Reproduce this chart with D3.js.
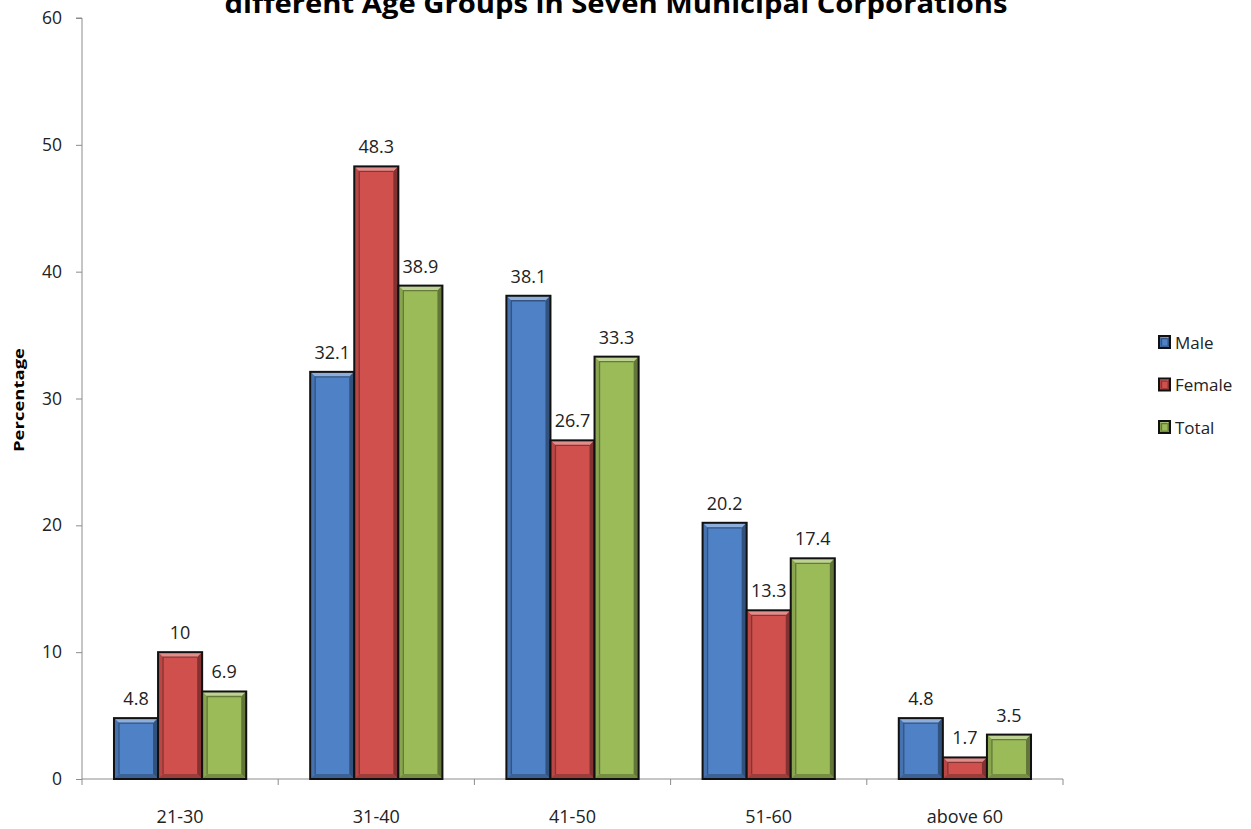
<!DOCTYPE html>
<html><head><meta charset="utf-8">
<script src="https://cdn.jsdelivr.net/npm/d3@7/dist/d3.min.js"></script>
<style>body{margin:0;background:#fff}svg{display:block}</style>
</head><body>
<svg id="chart" width="1251" height="829"></svg>
<script>
const categories = ["21-30", "31-40", "41-50", "51-60", "above 60"];
const seriesNames = ["Male", "Female", "Total"];
const male = [4.8, 32.1, 38.1, 20.2, 4.8];
const female = [10, 48.3, 26.7, 13.3, 1.7];
const total = [6.9, 38.9, 33.3, 17.4, 3.5];
const yTicks = [0, 10, 20, 30, 40, 50, 60];
const titleText = "different Age Groups in Seven Municipal Corporations";
const yLabel = "Percentage";

const colors = {Male: "#4F81C6", Female: "#D0504E", Total: "#9BBB59"};
const seriesData = {Male: male, Female: female, Total: total};

const svg = d3.select("#chart");
const font = "'Open Sans', 'Liberation Sans', sans-serif";
const m = {left: 82, right: 1063, top: 18, bottom: 779};

const band = d3.scaleBand().domain(categories).range([m.left, m.right]).padding(0);
const inner = d3.scaleBand().domain(seriesNames).range([0, band.bandwidth() * 0.674]).padding(0);
const y = d3.scaleLinear().domain([0, 60]).range([m.bottom, m.top]);

// title (second line, partly cut off at the top as in the reference)
svg.append("text").attr("x", 616).attr("y", 13).attr("text-anchor", "middle")
  .attr("font-family", "'Open Sans', sans-serif").attr("font-weight", "bold").attr("font-size", 27)
  .attr("textLength", 783).attr("lengthAdjust", "spacingAndGlyphs")
  .attr("fill", "#000").text(titleText);

// y axis
const yAxis = d3.axisLeft(y).tickValues(yTicks).tickSize(6).tickPadding(14);
const gy = svg.append("g").attr("transform", `translate(${m.left},0)`).call(yAxis);
gy.select(".domain").attr("stroke", "#8c8c8c").attr("d", `M-6,${m.top}H0V${m.bottom}`);
gy.selectAll(".tick line").attr("stroke", "#8c8c8c");
gy.selectAll(".tick text").attr("font-family", font).attr("font-size", 17.5).attr("fill", "#222");

// x axis
const gx = svg.append("g").attr("transform", `translate(0,${m.bottom})`);
gx.append("line").attr("x1", m.left).attr("x2", m.right).attr("y1", 0).attr("y2", 0).attr("stroke", "#8c8c8c");
const bounds = categories.map(c => band(c)).concat([m.right]);
gx.selectAll("line.tk").data(bounds).join("line").attr("class", "tk")
  .attr("x1", d => d).attr("x2", d => d).attr("y1", 0).attr("y2", 6).attr("stroke", "#8c8c8c");
gx.selectAll("text.cl").data(categories).join("text").attr("class", "cl")
  .attr("x", d => band(d) + band.bandwidth() / 2).attr("y", 44).attr("text-anchor", "middle")
  .attr("font-family", font).attr("font-size", 18).attr("fill", "#222").text(d => d);

// y label
svg.append("text").attr("transform", "translate(24,400) rotate(-90)").attr("text-anchor", "middle")
  .attr("font-family", "'Open Sans', sans-serif").attr("font-weight", "bold").attr("font-size", 15)
  .attr("textLength", 104).attr("lengthAdjust", "spacingAndGlyphs")
  .attr("fill", "#000").text(yLabel);

// bevelled bar
function bevelBar(g, x0, y0, w, h, col, bev) {
  const c = d3.color(col);
  const b = Math.min(bev, h / 2, w / 2);
  const face = c.formatHex();
  const light = d3.interpolateRgb(col, "#fff")(0.35);
  const mid = c.darker(0.35).formatHex();
  const dark = c.darker(0.8).formatHex();
  const darker = c.darker(1.3).formatHex();
  const x1 = x0 + w, y1 = y0 + h;
  g.append("rect").attr("x", x0).attr("y", y0).attr("width", w).attr("height", h).attr("fill", face);
  g.append("polygon").attr("points", `${x0},${y0} ${x1},${y0} ${x1-b},${y0+b} ${x0+b},${y0+b}`).attr("fill", light);
  g.append("polygon").attr("points", `${x0},${y0} ${x0+b},${y0+b} ${x0+b},${y1-b} ${x0},${y1}`).attr("fill", mid);
  g.append("polygon").attr("points", `${x1},${y0} ${x1},${y1} ${x1-b},${y1-b} ${x1-b},${y0+b}`).attr("fill", darker);
  g.append("polygon").attr("points", `${x0},${y1} ${x0+b},${y1-b} ${x1-b},${y1-b} ${x1},${y1}`).attr("fill", dark);
  // inner shadow edge on face (left and top)
  if (h > 2 * b + 2) {
    g.append("path").attr("d", `M${x0+b},${y1-b}V${y0+b}H${x1-b}`)
      .attr("fill", "none").attr("stroke", c.darker(1.2).formatHex()).attr("stroke-width", 1.3);
  }
  g.append("rect").attr("x", x0).attr("y", y0).attr("width", w).attr("height", h)
    .attr("fill", "none").attr("stroke", "#111").attr("stroke-width", 2);
}

const bars = svg.append("g");
const labels = svg.append("g");
categories.forEach((cat, i) => {
  const gx0 = band(cat) + band.bandwidth() * 0.163;
  seriesNames.forEach(s => {
    const v = seriesData[s][i];
    const bx = gx0 + inner(s);
    const bw = inner.bandwidth();
    const top = y(v);
    bevelBar(bars, bx, top, bw, y(0) - top, colors[s], 5);
    labels.append("text").attr("x", bx + bw / 2).attr("y", top - 13).attr("text-anchor", "middle")
      .attr("font-family", font).attr("font-size", 18).attr("fill", "#222").text(v);
  });
});

// legend
const leg = svg.append("g").attr("transform", "translate(1159,336)");
seriesNames.forEach((s, i) => {
  const g = leg.append("g").attr("transform", `translate(0,${i * 42.5})`);
  bevelBar(g, 0, 0, 11, 12, colors[s], 2.5);
  g.append("text").attr("x", 16).attr("y", 12.5).attr("font-family", "'Open Sans', sans-serif")
    .attr("font-size", 17).attr("fill", "#222").text(s);
});
</script>
</body></html>
